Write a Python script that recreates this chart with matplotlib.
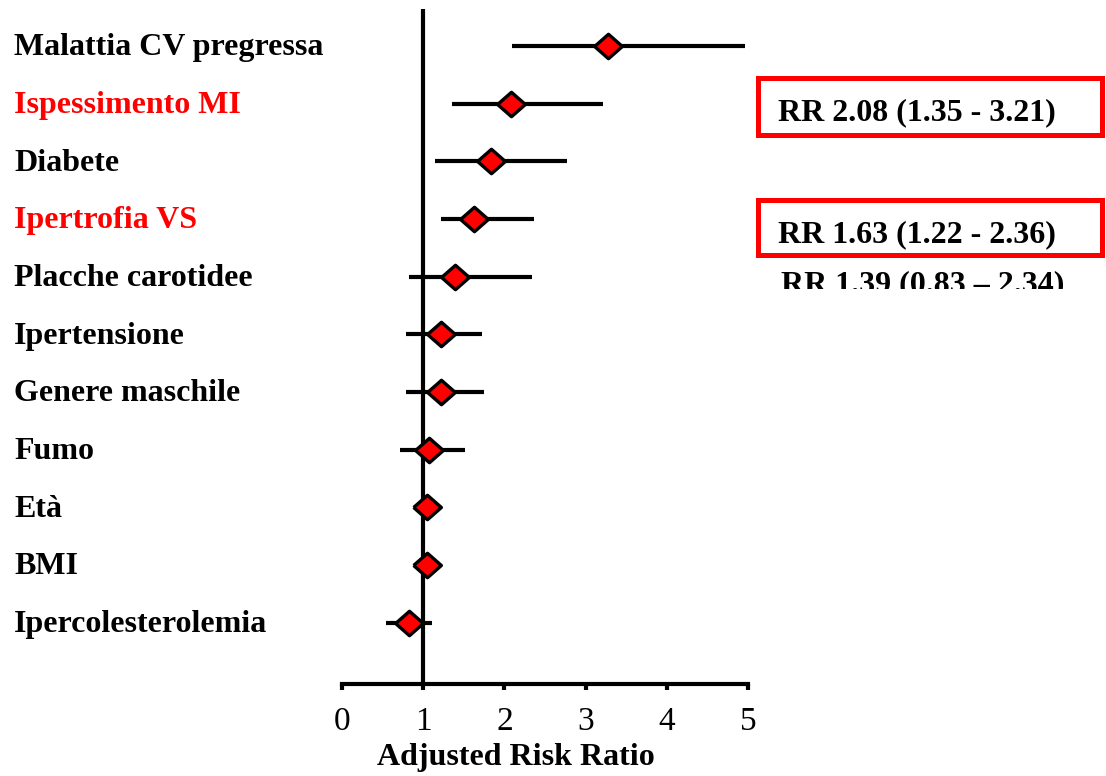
import matplotlib
matplotlib.use("Agg")
import matplotlib.pyplot as plt
from matplotlib import transforms
from matplotlib.patches import Rectangle
from matplotlib.transforms import Bbox, TransformedBbox

factors = [
    "Malattia CV pregressa", "Ispessimento MI", "Diabete", "Ipertrofia VS",
    "Placche carotidee", "Ipertensione", "Genere maschile", "Fumo", "Età",
    "BMI", "Ipercolesterolemia",
]
rr = [3.27, 2.08, 1.84, 1.63, 1.39, 1.22, 1.22, 1.07, 1.05, 1.05, 0.82]
ci_low = [2.09, 1.35, 1.15, 1.22, 0.83, 0.79, 0.79, 0.71, 1.03, 1.03, 0.54]
ci_high = [4.96, 3.21, 2.77, 2.36, 2.34, 1.73, 1.75, 1.51, 1.07, 1.07, 1.11]
highlighted = ["Ispessimento MI", "Ipertrofia VS"]
xticks = [0, 1, 2, 3, 4, 5]

plt.rcParams["font.family"] = ["Liberation Serif", "DejaVu Serif"]
FS = 23

W, H = 1106, 776
fig = plt.figure(figsize=(W / 100, H / 100), dpi=100)
ax = fig.add_axes([342 / W, 1 - 684 / H, (748 - 342) / W, (684 - 9) / H])

rows = list(range(len(factors)))
ax.axvline(1, color="black", lw=3, zorder=1)
ax.hlines(rows, ci_low, ci_high, color="black", lw=3, zorder=2)
diamond = [(-1, 0), (0, 0.88), (1, 0), (0, -0.88), (-1, 0)]
ax.plot(rr, rows, ls="none", marker=diamond, ms=20, mfc="red", mec="black",
        mew=2.4, zorder=3)

ax.set_xlim(0, 5)
ax.set_ylim(10 + 1.06, -0.64)
ax.set_yticks([])
for side in ("left", "right", "top"):
    ax.spines[side].set_visible(False)
ax.spines["bottom"].set_linewidth(3)
ax.set_xticks(xticks)
ax.tick_params(axis="x", direction="out", length=4, width=3, pad=12, labelsize=FS + 1)
ax.set_xlabel("Adjusted Risk Ratio", fontsize=FS, fontweight="bold")
ax.xaxis.set_label_coords((516 - 342) / 406, -(743 - 684) / 675)

# factor names on the left, aligned to the rows
lbl = transforms.blended_transform_factory(fig.transFigure, ax.transData)
for name, y in zip(factors, rows):
    ax.text(14 / W, y + 0.16, name, transform=lbl, ha="left", va="baseline",
            fontsize=FS, fontweight="bold",
            color="red" if name in highlighted else "black", clip_on=False)

# boxed risk ratios
for top, bottom in [(78, 135), (200, 255)]:
    fig.patches.append(Rectangle((758 / W, 1 - bottom / H), (1102 - 758) / W,
                                 (bottom - top) / H, transform=fig.transFigure,
                                 fill=False, ec="red", lw=3.6))
fig.text(778 / W, 1 - 120 / H, "RR 2.08 (1.35 - 3.21)", fontsize=FS,
         fontweight="bold", va="baseline")
fig.text(778 / W, 1 - 242 / H, "RR 1.63 (1.22 - 2.36)", fontsize=FS,
         fontweight="bold", va="baseline")
t = fig.text(781 / W, 1 - 292 / H, "RR 1.39 (0.83 \u2013 2.34)", fontsize=FS,
             fontweight="bold", va="baseline")
t.set_clip_on(True)
t.set_clip_box(TransformedBbox(Bbox([[0, 1 - 289 / H], [1, 1]]), fig.transFigure))

fig.savefig("out.png", dpi=100)
